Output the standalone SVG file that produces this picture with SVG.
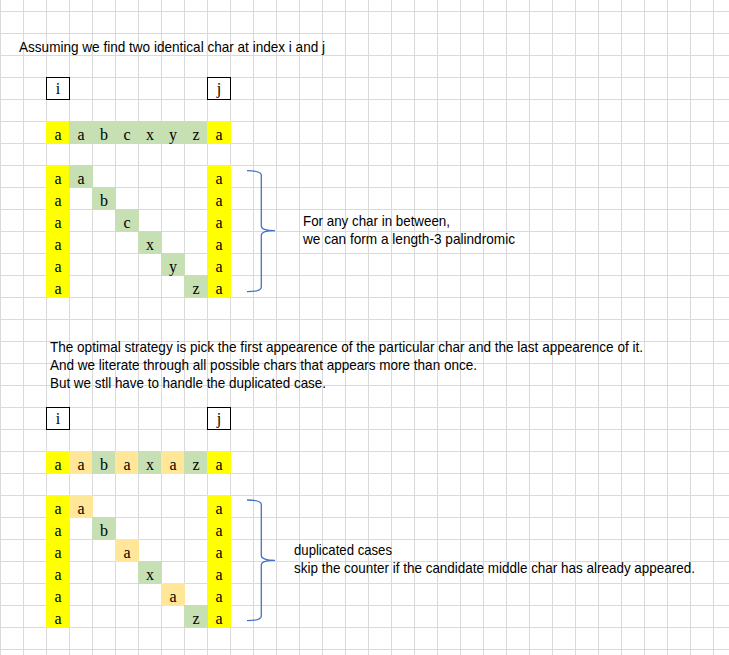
<svg xmlns="http://www.w3.org/2000/svg" width="729" height="655" viewBox="0 0 729 655">
<defs>
<pattern id="grid" x="0" y="11" width="23" height="22" patternUnits="userSpaceOnUse">
<rect x="0" y="0" width="1" height="22" fill="#DADADA"/>
<rect x="0" y="0" width="23" height="1" fill="#DADADA"/>
</pattern>
<style>
.y{fill:#FFFF00}
.g{fill:#C6E0B4}
.o{fill:#FFE699}
.c{font-family:"Liberation Serif",serif;font-size:16px;fill:#000;text-anchor:middle}
.t{font-family:"Liberation Sans",Arial,sans-serif;font-size:14.5px;fill:#000}
.box{fill:#fff;stroke:#000;stroke-width:1}
.brace{fill:none;stroke:#4472C4;stroke-width:1.3}
</style>
</defs>
<rect x="0" y="0" width="729" height="655" fill="#FFFFFF"/>
<g id="gridlines">
<rect x="0" y="0" width="729" height="655" fill="url(#grid)"/>
<rect x="0" y="0" width="729" height="11" fill="#FFFFFF"/>
<g fill="#DADADA">
<rect x="0" y="0" width="1" height="11"/><rect x="23" y="0" width="1" height="11"/><rect x="46" y="0" width="1" height="11"/><rect x="69" y="0" width="1" height="11"/><rect x="92" y="0" width="1" height="11"/><rect x="115" y="0" width="1" height="11"/><rect x="138" y="0" width="1" height="11"/><rect x="161" y="0" width="1" height="11"/><rect x="184" y="0" width="1" height="11"/><rect x="207" y="0" width="1" height="11"/><rect x="230" y="0" width="1" height="11"/><rect x="253" y="0" width="1" height="11"/><rect x="276" y="0" width="1" height="11"/><rect x="299" y="0" width="1" height="11"/><rect x="322" y="0" width="1" height="11"/><rect x="345" y="0" width="1" height="11"/><rect x="368" y="0" width="1" height="11"/><rect x="391" y="0" width="1" height="11"/><rect x="414" y="0" width="1" height="11"/><rect x="437" y="0" width="1" height="11"/><rect x="460" y="0" width="1" height="11"/><rect x="483" y="0" width="1" height="11"/><rect x="506" y="0" width="1" height="11"/><rect x="529" y="0" width="1" height="11"/><rect x="552" y="0" width="1" height="11"/><rect x="575" y="0" width="1" height="11"/><rect x="598" y="0" width="1" height="11"/><rect x="621" y="0" width="1" height="11"/><rect x="644" y="0" width="1" height="11"/><rect x="667" y="0" width="1" height="11"/><rect x="690" y="0" width="1" height="11"/><rect x="713" y="0" width="1" height="11"/>
</g>
</g>

<g id="title"><text class="t" x="19" y="52" textLength="306" lengthAdjust="spacingAndGlyphs">Assuming we find two identical char at index i and j</text></g>

<g id="i-box-1"><rect class="box" x="46.5" y="77.5" width="23" height="22"/><text class="c" x="58" y="94">i</text></g>
<g id="j-box-1"><rect class="box" x="207.5" y="77.5" width="23" height="22"/><text class="c" x="219" y="94">j</text></g>

<g id="string-1">
<rect class="y" x="46" y="121" width="24" height="23"/>
<rect class="g" x="69" y="121" width="139" height="23"/>
<rect class="y" x="207" y="121" width="24" height="23"/>
<text class="c" x="58" y="139.5">a</text><text class="c" x="81" y="139.5">a</text><text class="c" x="104" y="139.5">b</text><text class="c" x="127" y="139.5">c</text><text class="c" x="150" y="139.5">x</text><text class="c" x="173" y="139.5">y</text><text class="c" x="196" y="139.5">z</text><text class="c" x="219" y="139.5">a</text>
</g>

<g id="matrix-1">
<rect class="y" x="46" y="165" width="24" height="133"/>
<rect class="y" x="207" y="165" width="24" height="133"/>
<rect class="g" x="69" y="165" width="24" height="23"/>
<rect class="g" x="92" y="187" width="24" height="23"/>
<rect class="g" x="115" y="209" width="24" height="23"/>
<rect class="g" x="138" y="231" width="24" height="23"/>
<rect class="g" x="161" y="253" width="24" height="23"/>
<rect class="g" x="184" y="275" width="24" height="23"/>
<text class="c" x="58" y="183.5">a</text><text class="c" x="58" y="205.5">a</text><text class="c" x="58" y="227.5">a</text><text class="c" x="58" y="249.5">a</text><text class="c" x="58" y="271.5">a</text><text class="c" x="58" y="293.5">a</text>
<text class="c" x="219" y="183.5">a</text><text class="c" x="219" y="205.5">a</text><text class="c" x="219" y="227.5">a</text><text class="c" x="219" y="249.5">a</text><text class="c" x="219" y="271.5">a</text><text class="c" x="219" y="293.5">a</text>
<text class="c" x="81" y="183.5">a</text><text class="c" x="104" y="205.5">b</text><text class="c" x="127" y="227.5">c</text><text class="c" x="150" y="249.5">x</text><text class="c" x="173" y="271.5">y</text><text class="c" x="196" y="293.5">z</text>
</g>

<g id="note-1">
<text class="t" x="303" y="226" textLength="147" lengthAdjust="spacingAndGlyphs">For any char in between,</text>
<text class="t" x="303" y="243.5" textLength="212" lengthAdjust="spacingAndGlyphs">we can form a length-3 palindromic</text>
</g>

<g id="explanation">
<text class="t" x="50" y="352" textLength="593" lengthAdjust="spacingAndGlyphs">The optimal strategy is pick the first appearence of the particular char and the last appearence of it.</text>
<text class="t" x="50" y="370" textLength="427" lengthAdjust="spacingAndGlyphs">And we literate through all possible chars that appears more than once.</text>
<text class="t" x="50" y="388" textLength="276" lengthAdjust="spacingAndGlyphs">But we stll have to handle the duplicated case.</text>
</g>

<g id="i-box-2"><rect class="box" x="46.5" y="407.5" width="23" height="22"/><text class="c" x="58" y="424">i</text></g>
<g id="j-box-2"><rect class="box" x="207.5" y="407.5" width="23" height="22"/><text class="c" x="219" y="424">j</text></g>

<g id="string-2">
<rect class="y" x="46" y="451" width="24" height="23"/>
<rect class="o" x="69" y="451" width="24" height="23"/>
<rect class="g" x="92" y="451" width="24" height="23"/>
<rect class="o" x="115" y="451" width="24" height="23"/>
<rect class="g" x="138" y="451" width="24" height="23"/>
<rect class="o" x="161" y="451" width="24" height="23"/>
<rect class="g" x="184" y="451" width="24" height="23"/>
<rect class="y" x="207" y="451" width="24" height="23"/>
<text class="c" x="58" y="469.5">a</text><text class="c" x="81" y="469.5">a</text><text class="c" x="104" y="469.5">b</text><text class="c" x="127" y="469.5">a</text><text class="c" x="150" y="469.5">x</text><text class="c" x="173" y="469.5">a</text><text class="c" x="196" y="469.5">z</text><text class="c" x="219" y="469.5">a</text>
</g>

<g id="matrix-2">
<rect class="y" x="46" y="495" width="24" height="133"/>
<rect class="y" x="207" y="495" width="24" height="133"/>
<rect class="o" x="69" y="495" width="24" height="23"/>
<rect class="g" x="92" y="517" width="24" height="23"/>
<rect class="o" x="115" y="539" width="24" height="23"/>
<rect class="g" x="138" y="561" width="24" height="23"/>
<rect class="o" x="161" y="583" width="24" height="23"/>
<rect class="g" x="184" y="605" width="24" height="23"/>
<text class="c" x="58" y="513.5">a</text><text class="c" x="58" y="535.5">a</text><text class="c" x="58" y="557.5">a</text><text class="c" x="58" y="579.5">a</text><text class="c" x="58" y="601.5">a</text><text class="c" x="58" y="623.5">a</text>
<text class="c" x="219" y="513.5">a</text><text class="c" x="219" y="535.5">a</text><text class="c" x="219" y="557.5">a</text><text class="c" x="219" y="579.5">a</text><text class="c" x="219" y="601.5">a</text><text class="c" x="219" y="623.5">a</text>
<text class="c" x="81" y="513.5">a</text><text class="c" x="104" y="535.5">b</text><text class="c" x="127" y="557.5">a</text><text class="c" x="150" y="579.5">x</text><text class="c" x="173" y="601.5">a</text><text class="c" x="196" y="623.5">z</text>
</g>

<g id="note-2">
<text class="t" x="294" y="555" textLength="98" lengthAdjust="spacingAndGlyphs">duplicated cases</text>
<text class="t" x="294" y="573" textLength="401" lengthAdjust="spacingAndGlyphs">skip the counter if the candidate middle char has already appeared.</text>
</g>

<g id="connectors">
<path class="brace" d="M247,170.7 Q261.3,170.7 261.3,175 V226 Q261.3,230.7 275,230.7 Q261.3,230.7 261.3,235.5 V287 Q261.3,291.7 247,291.7"/>
<path class="brace" d="M247,500 Q261.3,500 261.3,504.5 V555.5 Q261.3,560.3 275,560.3 Q261.3,560.3 261.3,565 V616 Q261.3,620.7 247,620.7"/>
</g>
</svg>
